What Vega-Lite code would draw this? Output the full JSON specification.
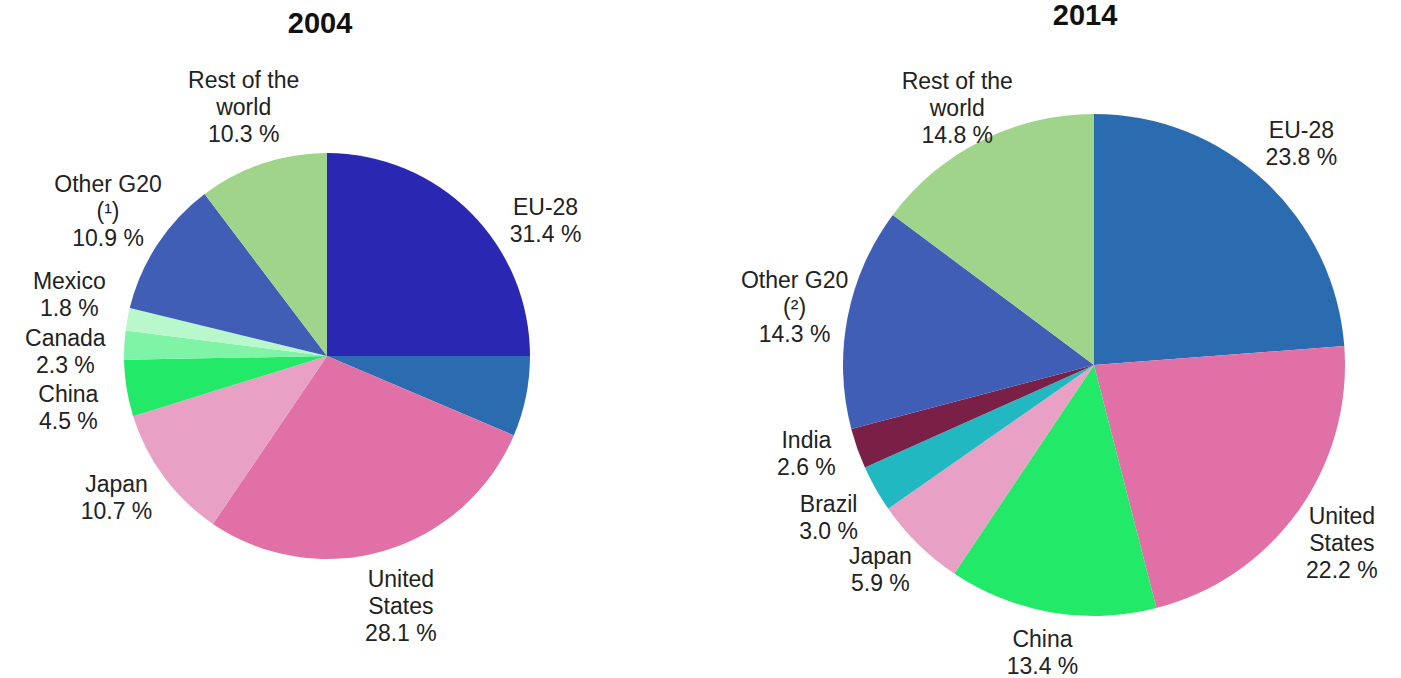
{
  "$schema": "https://vega.github.io/schema/vega-lite/v6.json",
  "width": 1401,
  "height": 678,
  "autosize": {"type": "fit", "contains": "padding"},
  "padding": 0,
  "background": "white",
  "config": {"view": {"stroke": null}, "text": {"font": "Liberation Sans"}},
  "datasets": {
    "shares": [
      {"year": "2004", "partner": "EU-28", "segment": "EU-28 A", "rank": 1, "share": 25.0, "label": "EU-28\n31.4 %"},
      {"year": "2004", "partner": "EU-28", "segment": "EU-28", "rank": 2, "share": 6.4, "label": "EU-28\n31.4 %"},
      {"year": "2004", "partner": "United States", "segment": "United States", "rank": 3, "share": 28.1, "label": "United\nStates\n28.1 %"},
      {"year": "2004", "partner": "Japan", "segment": "Japan", "rank": 4, "share": 10.7, "label": "Japan\n10.7 %"},
      {"year": "2004", "partner": "China", "segment": "China", "rank": 5, "share": 4.5, "label": "China\n4.5 %"},
      {"year": "2004", "partner": "Canada", "segment": "Canada", "rank": 6, "share": 2.3, "label": "Canada\n2.3 %"},
      {"year": "2004", "partner": "Mexico", "segment": "Mexico", "rank": 7, "share": 1.8, "label": "Mexico\n1.8 %"},
      {"year": "2004", "partner": "Other G20", "segment": "Other G20", "rank": 8, "share": 10.9, "label": "Other G20\n(¹)\n10.9 %"},
      {"year": "2004", "partner": "Rest of the world", "segment": "Rest of the world", "rank": 9, "share": 10.3, "label": "Rest of the\nworld\n10.3 %"},
      {"year": "2014", "partner": "EU-28", "segment": "EU-28", "rank": 1, "share": 23.8, "label": "EU-28\n23.8 %"},
      {"year": "2014", "partner": "United States", "segment": "United States", "rank": 2, "share": 22.2, "label": "United\nStates\n22.2 %"},
      {"year": "2014", "partner": "China", "segment": "China", "rank": 3, "share": 13.4, "label": "China\n13.4 %"},
      {"year": "2014", "partner": "Japan", "segment": "Japan", "rank": 4, "share": 5.9, "label": "Japan\n5.9 %"},
      {"year": "2014", "partner": "Brazil", "segment": "Brazil", "rank": 5, "share": 3.0, "label": "Brazil\n3.0 %"},
      {"year": "2014", "partner": "India", "segment": "India", "rank": 6, "share": 2.6, "label": "India\n2.6 %"},
      {"year": "2014", "partner": "Other G20", "segment": "Other G20", "rank": 7, "share": 14.3, "label": "Other G20\n(²)\n14.3 %"},
      {"year": "2014", "partner": "Rest of the world", "segment": "Rest of the world", "rank": 8, "share": 14.8, "label": "Rest of the\nworld\n14.8 %"}
    ],
    "years": [{"year": "2004"}, {"year": "2014"}]
  },
  "encoding": {
    "x": {"field": "year", "type": "ordinal", "scale": {"type": "point", "padding": 0, "range": [327, 1094]}, "axis": null},
    "y": {"field": "year", "type": "ordinal", "scale": {"type": "point", "padding": 0, "range": [356, 365]}, "axis": null}
  },
  "layer": [
    {
      "data": {"name": "shares"},
      "transform": [{"filter": "datum.year === '2004'"}],
      "mark": {"type": "arc", "outerRadius": 203},
      "encoding": {
        "theta": {"field": "share", "type": "quantitative", "stack": true, "scale": {"domain": [0, 100]}},
        "order": {"field": "rank", "type": "quantitative"},
        "color": {
          "field": "segment", "type": "nominal", "legend": null,
          "scale": {
            "domain": ["EU-28 A", "EU-28", "United States", "Japan", "China", "Canada", "Mexico", "Brazil", "India", "Other G20", "Rest of the world"],
            "range": ["#2A28B2", "#2B6BB0", "#E070A6", "#E8A0C4", "#22EA68", "#80F4A6", "#B8F8CC", "#22B8C2", "#7A1F45", "#405EB6", "#A0D48A"]
          }
        }
      }
    },
    {
      "data": {"name": "shares"},
      "transform": [{"filter": "datum.year === '2014'"}],
      "mark": {"type": "arc", "outerRadius": 251},
      "encoding": {
        "theta": {"field": "share", "type": "quantitative", "stack": true, "scale": {"domain": [0, 100]}},
        "order": {"field": "rank", "type": "quantitative"},
        "color": {"field": "segment", "type": "nominal", "legend": null}
      }
    },
    {
      "data": {"name": "shares"},
      "transform": [
        {"filter": "datum.year === '2004'"},
        {"aggregate": [{"op": "sum", "field": "share", "as": "share"}, {"op": "min", "field": "rank", "as": "rank"}], "groupby": ["year", "partner", "label"]}
      ],
      "mark": {"type": "text", "radius": 262, "dy": -3, "fontSize": 23, "lineHeight": 27, "lineBreak": "\n", "align": "center", "baseline": "middle", "color": "#222222"},
      "encoding": {
        "theta": {"field": "share", "type": "quantitative", "stack": true, "scale": {"domain": [0, 100]}},
        "order": {"field": "rank", "type": "quantitative"},
        "text": {"condition": {"test": "indexof(['EU-28', 'China', 'Canada'], datum.partner) >= 0", "field": "label", "type": "nominal"}, "value": ""}
      }
    },
    {
      "data": {"name": "shares"},
      "transform": [
        {"filter": "datum.year === '2004'"},
        {"aggregate": [{"op": "sum", "field": "share", "as": "share"}, {"op": "min", "field": "rank", "as": "rank"}], "groupby": ["year", "partner", "label"]}
      ],
      "mark": {"type": "text", "radius": 262, "dy": -27, "fontSize": 23, "lineHeight": 27, "lineBreak": "\n", "align": "center", "baseline": "middle", "color": "#222222"},
      "encoding": {
        "theta": {"field": "share", "type": "quantitative", "stack": true, "scale": {"domain": [0, 100]}},
        "order": {"field": "rank", "type": "quantitative"},
        "text": {"condition": {"test": "indexof(['EU-28', 'China', 'Canada'], datum.partner) < 0", "field": "label", "type": "nominal"}, "value": ""}
      }
    },
    {
      "data": {"name": "shares"},
      "transform": [
        {"filter": "datum.year === '2014'"},
        {"aggregate": [{"op": "sum", "field": "share", "as": "share"}, {"op": "min", "field": "rank", "as": "rank"}], "groupby": ["year", "partner", "label"]}
      ],
      "mark": {"type": "text", "radius": 305, "dy": -10, "fontSize": 23, "lineHeight": 27, "lineBreak": "\n", "align": "center", "baseline": "middle", "color": "#222222"},
      "encoding": {
        "theta": {"field": "share", "type": "quantitative", "stack": true, "scale": {"domain": [0, 100]}},
        "order": {"field": "rank", "type": "quantitative"},
        "text": {"condition": {"test": "indexof(['EU-28', 'Rest of the world', 'Brazil'], datum.partner) >= 0", "field": "label", "type": "nominal"}, "value": ""}
      }
    },
    {
      "data": {"name": "shares"},
      "transform": [
        {"filter": "datum.year === '2014'"},
        {"aggregate": [{"op": "sum", "field": "share", "as": "share"}, {"op": "min", "field": "rank", "as": "rank"}], "groupby": ["year", "partner", "label"]}
      ],
      "mark": {"type": "text", "radius": 305, "dy": -26, "fontSize": 23, "lineHeight": 27, "lineBreak": "\n", "align": "center", "baseline": "middle", "color": "#222222"},
      "encoding": {
        "theta": {"field": "share", "type": "quantitative", "stack": true, "scale": {"domain": [0, 100]}},
        "order": {"field": "rank", "type": "quantitative"},
        "text": {"condition": {"test": "indexof(['EU-28', 'Rest of the world', 'Brazil'], datum.partner) < 0", "field": "label", "type": "nominal"}, "value": ""}
      }
    },
    {
      "data": {"name": "years"},
      "transform": [{"filter": "datum.year === '2004'"}],
      "mark": {"type": "text", "fontSize": 29, "fontWeight": "bold", "dx": -7, "dy": -332, "align": "center", "baseline": "middle", "color": "#111111"},
      "encoding": {"text": {"field": "year", "type": "nominal"}}
    },
    {
      "data": {"name": "years"},
      "transform": [{"filter": "datum.year === '2014'"}],
      "mark": {"type": "text", "fontSize": 29, "fontWeight": "bold", "dx": -9, "dy": -349, "align": "center", "baseline": "middle", "color": "#111111"},
      "encoding": {"text": {"field": "year", "type": "nominal"}}
    }
  ]
}
